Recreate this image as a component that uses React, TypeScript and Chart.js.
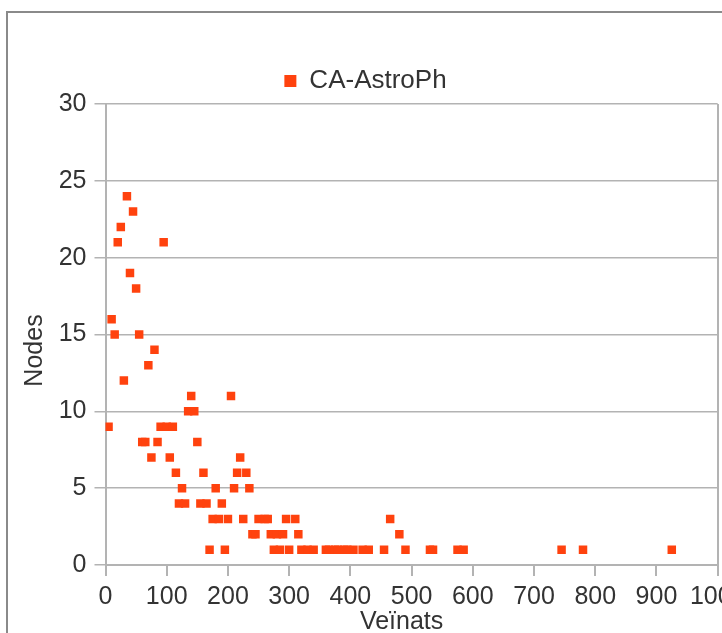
import React, { useEffect, useRef } from "react";
import { Chart, registerables } from "chart.js";

Chart.register(...registerables);

// Degree distribution of the CA-AstroPh collaboration network
const seriesLabel = "CA-AstroPh";
const neighbours = [
  5, 10, 15, 20, 25, 30, 35, 40, 45, 50, 55, 60, 65, 70, 75, 80, 85, 90, 95, 100,
  105, 110, 115, 120, 125, 130, 135, 140, 145, 150, 155, 160, 165, 170, 175, 180,
  185, 190, 195, 200, 205, 210, 215, 220, 225, 230, 235, 240, 245, 250, 260, 265,
  270, 275, 280, 285, 290, 295, 300, 310, 315, 320, 330, 340, 360, 365, 375, 380,
  390, 395, 405, 420, 430, 455, 465, 480, 490, 530, 535, 575, 585, 745, 780, 925,
];
const nodeCounts = [
  9, 16, 15, 21, 22, 12, 24, 19, 23, 18, 15, 8, 8, 13, 7, 14, 8, 9, 21, 9,
  7, 9, 6, 4, 5, 4, 10, 11, 10, 8, 4, 6, 4, 1, 3, 5,
  3, 4, 1, 3, 11, 5, 6, 7, 3, 6, 5, 2, 2, 3, 3, 3,
  2, 1, 2, 1, 2, 3, 1, 3, 2, 1, 1, 1, 1, 1, 1, 1,
  1, 1, 1, 1, 1, 1, 3, 2, 1, 1, 1, 1, 1, 1, 1, 1,
];

const xTitle = "Veïnats";
const yTitle = "Nodes";
const xRange = { min: 0, max: 1000, step: 100 };
const yRange = { min: 0, max: 30, step: 5 };

const MARKER = "#ff420e";
const TEXT = "#333333";
const GRID = "#b3b3b3";
const FONT = "'Liberation Sans', Arial, sans-serif";

// Axis titles, placed relative to the plot area
const axisTitles = {
  id: "axisTitles",
  afterDraw(chart: Chart) {
    const { ctx, chartArea } = chart;
    ctx.save();
    ctx.fillStyle = TEXT;
    ctx.font = `25px ${FONT}`;
    ctx.textAlign = "center";
    ctx.textBaseline = "middle";
    ctx.fillText(xTitle, (chartArea.left + chartArea.right) / 2 - 10, chartArea.bottom + 57);
    ctx.translate(chartArea.left - 70, (chartArea.top + chartArea.bottom) / 2 + 16);
    ctx.rotate(-Math.PI / 2);
    ctx.fillText(yTitle, 0, 0);
    ctx.restore();
  },
};

export default function App() {
  const ref = useRef<HTMLCanvasElement | null>(null);

  useEffect(() => {
    if (!ref.current) return;
    const points = neighbours.map((x, i) => ({ x, y: nodeCounts[i] }));
    const chart = new Chart(ref.current, {
      type: "scatter",
      data: {
        datasets: [
          {
            label: seriesLabel,
            data: points,
            pointStyle: "rect",
            pointRadius: 6,
            pointHoverRadius: 6,
            pointBorderWidth: 0,
            backgroundColor: MARKER,
            borderColor: MARKER,
          },
        ],
      },
      options: {
        responsive: false,
        animation: false,
        layout: { padding: { top: 57, left: 13.3, right: 62.3, bottom: 0 } },
        plugins: {
          tooltip: { enabled: false },
          legend: {
            position: "top",
            labels: {
              usePointStyle: true,
              pointStyle: "rect",
              boxWidth: 12,
              boxHeight: 12,
              padding: 11,
              color: TEXT,
              font: { size: 26, family: FONT },
            },
          },
        },
        scales: {
          x: {
            type: "linear",
            min: xRange.min,
            max: xRange.max,
            afterFit: (scale: any) => {
              scale.height = 95;
            },
            ticks: {
              stepSize: xRange.step,
              padding: 6,
              color: TEXT,
              font: { size: 25, family: FONT },
              maxRotation: 0,
              autoSkip: false,
              callback: (value: any) => String(value),
            },
            grid: {
              drawOnChartArea: true,
              color: (c: any) => (c.tick && c.tick.value === xRange.max ? GRID : "rgba(0,0,0,0)"),
              tickColor: GRID,
              tickLength: 11,
              lineWidth: 2,
            },
            border: { color: GRID, width: 2 },
          },
          y: {
            type: "linear",
            min: yRange.min,
            max: yRange.max,
            afterFit: (scale: any) => {
              scale.width = 92.2;
            },
            ticks: {
              stepSize: yRange.step,
              padding: 8,
              color: TEXT,
              font: { size: 25, family: FONT },
              callback: (value: any) => String(value),
            },
            grid: {
              color: GRID,
              tickColor: GRID,
              tickLength: 11,
              lineWidth: 1.5,
            },
            border: { color: GRID, width: 2 },
          },
        },
      },
      plugins: [axisTitles],
    });
    return () => chart.destroy();
  }, []);

  return (
    <div
      style={{
        position: "fixed",
        left: 0,
        top: 0,
        width: 722,
        height: 633,
        overflow: "hidden",
        background: "#ffffff",
      }}
    >
      <div
        style={{
          position: "absolute",
          left: 6,
          top: 11,
          width: 800,
          height: 700,
          borderLeft: "2px solid #8a8a8a",
          borderTop: "2px solid #8a8a8a",
        }}
      />
      <canvas
        ref={ref}
        width={780}
        height={660}
        style={{ position: "absolute", left: 0, top: 0 }}
      />
    </div>
  );
}
